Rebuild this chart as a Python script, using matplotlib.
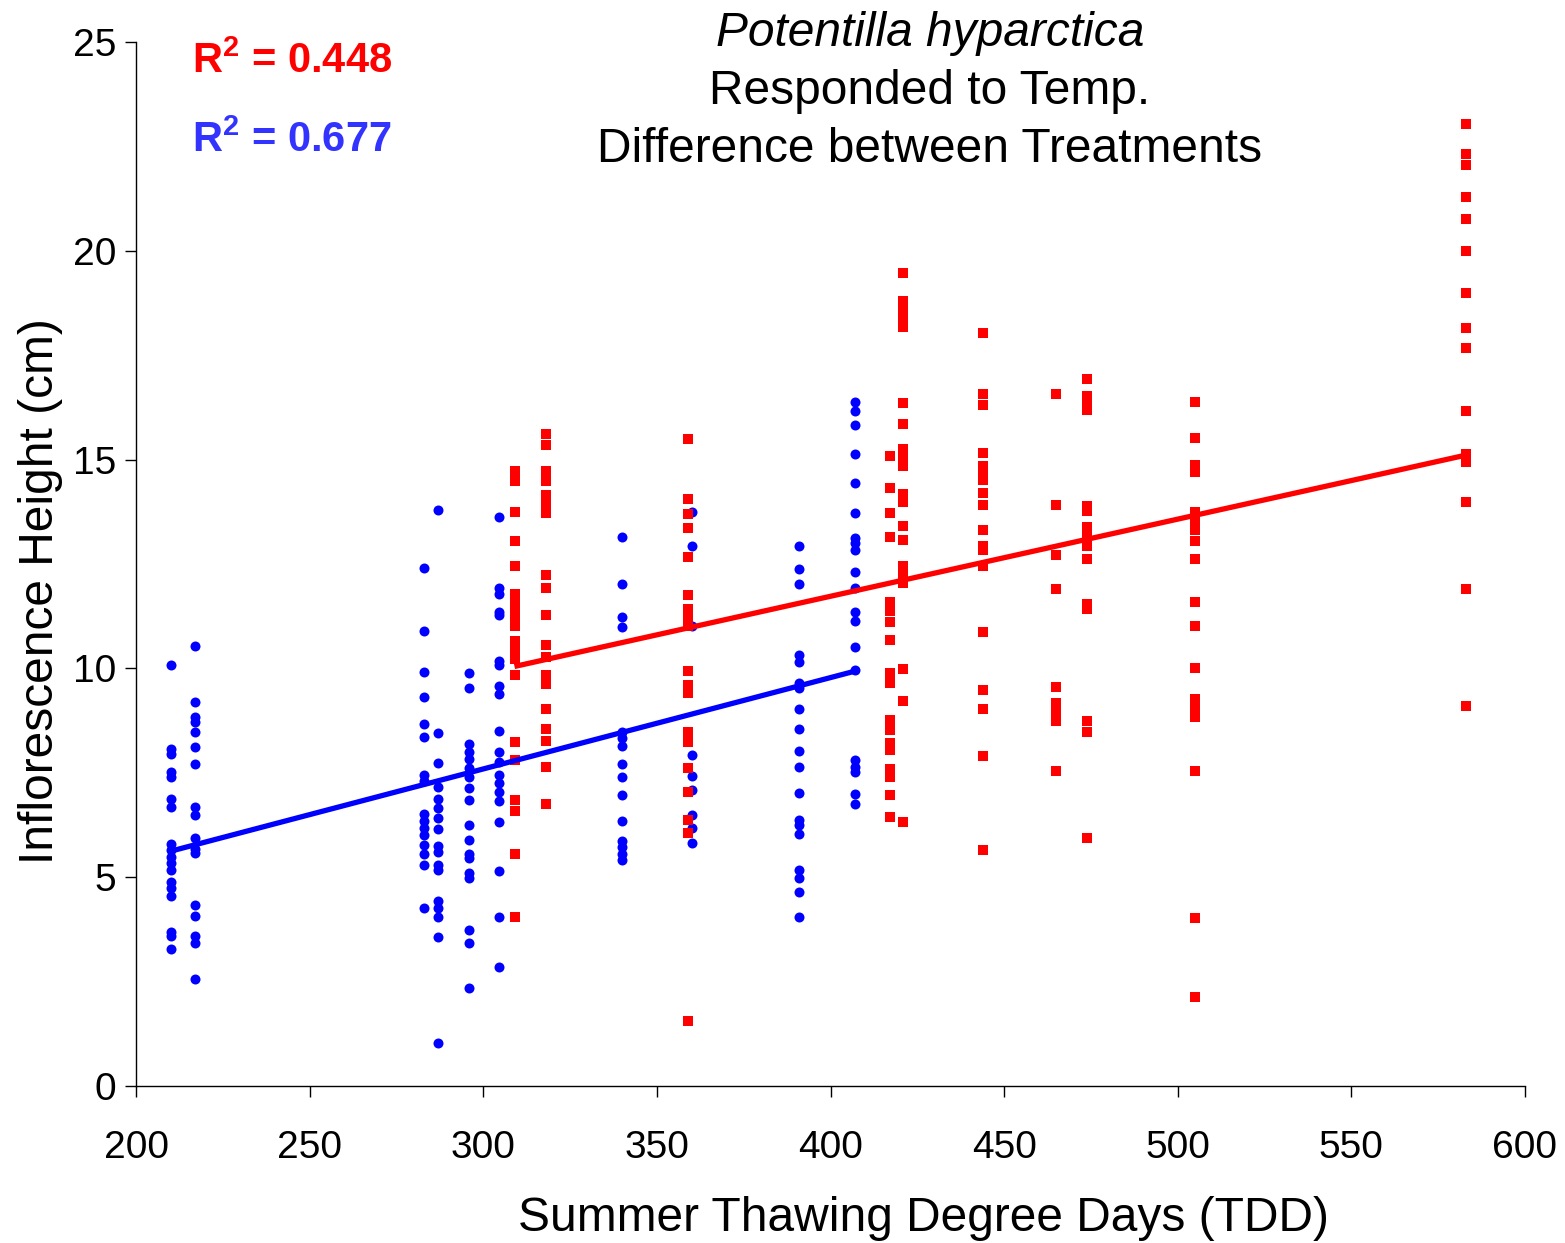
import numpy as np
import matplotlib
matplotlib.use("Agg")
import matplotlib.pyplot as plt

plt.rcParams['font.family'] = ['Liberation Sans', 'DejaVu Sans']
plt.rcParams['mathtext.fontset'] = 'custom'
plt.rcParams['mathtext.rm'] = 'Liberation Sans'
plt.rcParams['mathtext.bf'] = 'Liberation Sans:bold'

# control plots (blue circles): TDD of each plot and the heights measured there
blue_tdd = [210, 217, 283, 287, 296, 304.5, 340, 360, 391, 407]
blue_heights = [
    [10.07, 8.07, 7.95, 7.51, 7.39, 6.87, 6.69, 5.79, 5.65, 5.49, 5.33, 5.17,
     4.88, 4.73, 4.56, 3.68, 3.58, 3.28],
    [10.54, 9.2, 8.84, 8.71, 8.47, 8.11, 7.71, 6.69, 6.49, 5.95, 5.68, 5.57,
     4.33, 4.08, 3.6, 3.42, 2.56],
    [12.4, 10.89, 9.92, 9.31, 8.66, 8.35, 7.45, 7.31, 6.52, 6.35, 6.17, 6.0,
     5.78, 5.56, 5.3, 4.26],
    [13.79, 8.46, 7.74, 7.17, 6.87, 6.65, 6.41, 6.15, 5.74, 5.61, 5.3, 5.17,
     4.43, 4.26, 4.04, 3.56, 1.04],
    [9.88, 9.53, 8.18, 8.0, 7.83, 7.61, 7.39, 7.13, 6.85, 6.24, 5.9, 5.56,
     5.47, 5.09, 4.97, 3.74, 3.43, 2.34],
    [13.62, 11.92, 11.79, 11.36, 11.27, 10.18, 10.09, 9.57, 9.38, 8.51, 8.0,
     7.76, 7.44, 7.26, 7.05, 6.83, 6.31, 5.15, 4.04, 2.86],
    [13.14, 12.02, 11.24, 10.98, 8.47, 8.33, 8.14, 7.71, 7.41, 6.98, 6.34,
     5.86, 5.72, 5.56, 5.42],
    [13.75, 12.92, 11.02, 7.93, 7.43, 7.10, 6.48, 6.17, 5.82],
    [12.93, 12.38, 12.01, 10.33, 10.15, 9.66, 9.53, 9.02, 8.54, 8.02, 7.64,
     7.02, 6.36, 6.24, 6.03, 5.18, 4.97, 4.65, 4.05],
    [16.38, 16.17, 15.84, 15.14, 14.44, 13.72, 13.12, 13.0, 12.83, 12.32,
     11.93, 11.35, 11.13, 10.52, 9.95, 7.80, 7.64, 7.51, 7.0, 6.75],
]

# warmed plots (red squares)
red_tdd = [309, 318, 359, 417, 421, 444, 465, 474, 505, 583]
red_heights = [
    [14.72, 14.48, 13.75, 13.06, 12.45, 11.78, 11.59, 11.40, 11.21, 11.02,
     10.65, 10.50, 10.36, 10.22, 9.84, 8.23, 7.81, 6.86, 6.59, 5.55, 4.04],
    [15.62, 15.36, 14.72, 14.48, 14.15, 13.96, 13.72, 12.24, 11.93, 11.28,
     10.55, 10.27, 9.84, 9.62, 9.02, 8.54, 8.26, 7.63, 6.76],
    [15.49, 14.05, 13.69, 13.36, 12.66, 11.75, 11.43, 11.21, 11.02, 9.94,
     9.60, 9.42, 8.47, 8.23, 7.61, 7.05, 6.38, 6.05, 1.56],
    [15.08, 14.32, 13.71, 13.15, 11.60, 11.37, 11.10, 10.68, 9.88, 9.66,
     8.76, 8.53, 8.22, 8.04, 7.59, 7.41, 6.98, 6.43],
    [19.48, 18.80, 18.58, 18.35, 18.17, 16.35, 15.85, 15.26, 15.06, 14.84,
     14.18, 13.98, 13.41, 13.08, 12.45, 12.27, 12.04, 9.99, 9.21, 6.32],
    [18.04, 16.58, 16.30, 15.17, 14.84, 14.68, 14.52, 14.19, 13.92, 13.32,
     12.94, 12.84, 12.45, 10.88, 9.49, 9.02, 7.90, 5.64],
    [16.57, 13.92, 12.72, 11.89, 9.55, 9.17, 8.95, 8.74, 7.55],
    [16.92, 16.52, 16.36, 16.18, 13.90, 13.76, 13.38, 13.19, 12.94, 12.62,
     11.55, 11.42, 8.74, 8.47, 5.95],
    [16.39, 15.52, 14.87, 14.70, 13.74, 13.54, 13.32, 13.05, 12.62, 11.58,
     11.01, 10.01, 9.26, 9.04, 8.84, 7.54, 4.03, 2.12],
    [23.03, 22.31, 22.05, 21.30, 20.75, 20.0, 18.99, 18.15, 17.67, 16.17,
     15.14, 14.95, 13.99, 11.89, 9.11],
]

r2_red = r"R$^{\mathbf{2}}$ = 0.448"
r2_blue = r"R$^{\mathbf{2}}$ = 0.677"
title_lines = ["Potentilla hyparctica", "Responded to Temp.",
               "Difference between Treatments"]
x_ticks = [200, 250, 300, 350, 400, 450, 500, 550, 600]
y_ticks = [0, 5, 10, 15, 20, 25]


def flatten(tdd, heights):
    xs, ys = [], []
    for t, hs in zip(tdd, heights):
        xs += [t] * len(hs)
        ys += hs
    return np.array(xs, float), np.array(ys, float)


bx, by = flatten(blue_tdd, blue_heights)
rx, ry = flatten(red_tdd, red_heights)

fig = plt.figure(figsize=(15.65, 12.43), dpi=100)
ax = fig.add_axes([136 / 1565, 1 - 1086 / 1243, 1389 / 1565, 1044 / 1243])

ax.plot(bx, by, 'o', color='#0000ff', markersize=7.2, markeredgewidth=0,
        zorder=2)
ax.plot(rx, ry, 's', color='#ff0000', markersize=7.8, markeredgewidth=0,
        zorder=3)

# linear trend lines over each treatment's range
for xs, ys, c in [(bx, by, '#0000ff'), (rx, ry, '#ff0000')]:
    k, b = np.polyfit(xs, ys, 1)
    xl = np.array([xs.min(), xs.max()])
    ax.plot(xl, k * xl + b, color=c, linewidth=3.8, zorder=4,
            solid_capstyle='butt')

ax.set_xlim(200, 600)
ax.set_ylim(0, 25)
ax.set_xticks(x_ticks)
ax.set_yticks(y_ticks)
ax.spines['top'].set_visible(False)
ax.spines['right'].set_visible(False)
for s in ['left', 'bottom']:
    ax.spines[s].set_linewidth(1.0)
ax.tick_params(axis='both', direction='out', length=8, width=1.0,
               labelsize=28)
ax.tick_params(axis='x', pad=24)
ax.tick_params(axis='y', pad=6)

ax.set_xlabel("Summer Thawing Degree Days (TDD)", fontsize=34.5, labelpad=21,
              x=(923 - 136) / 1389)
ax.set_ylabel("Inflorescence Height (cm)", fontsize=34.5, labelpad=7,
              y=0.474)

tx = (930 - 136) / 1389
ax.text(tx, 1.0086, title_lines[0], transform=ax.transAxes, ha='center',
        va='center', fontsize=34.5, style='italic')
ax.text(tx, 0.953, title_lines[1], transform=ax.transAxes, ha='center',
        va='center', fontsize=34.5)
ax.text(tx, 0.8975, title_lines[2], transform=ax.transAxes, ha='center',
        va='center', fontsize=34.5)

ax.text(0.04, 0.9703, r2_red, transform=ax.transAxes, color='#ff0000',
        fontsize=30, fontweight='bold', va='baseline')
ax.text(0.04, 0.895, r2_blue, transform=ax.transAxes, color='#3333ff',
        fontsize=30, fontweight='bold', va='baseline')

fig.savefig("out.png", dpi=100)
